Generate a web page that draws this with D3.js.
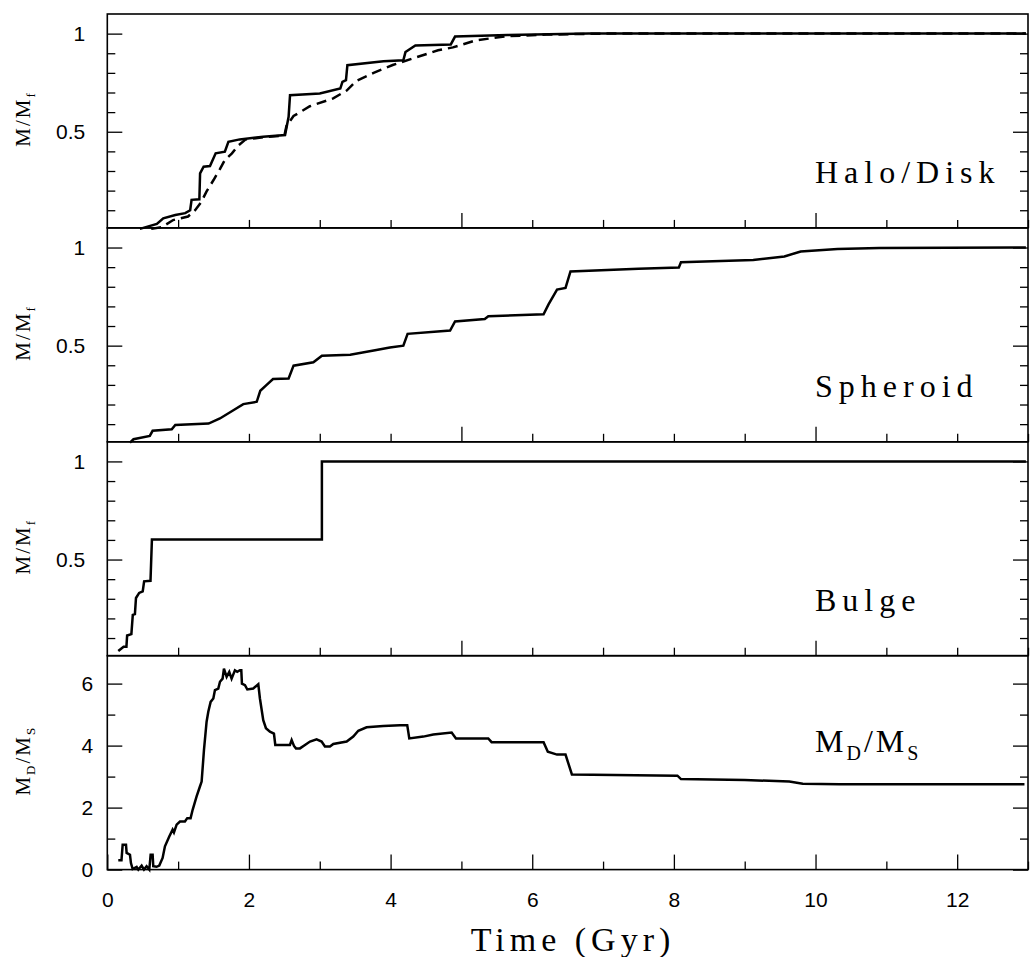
<!DOCTYPE html>
<html>
<head>
<meta charset="utf-8">
<script src="https://cdn.jsdelivr.net/npm/d3@7/dist/d3.min.js"></script>
<style>
  body { margin: 0; background: #fff; }
  svg { display: block; }
</style>
</head>
<body>
<svg id="chart" width="1032" height="957"></svg>
<script>
// ---------------- data ----------------
const haloSolidTime = [0.46, 0.70, 0.79, 0.96, 1.10, 1.17, 1.19, 1.30, 1.31, 1.36, 1.45, 1.53, 1.66, 1.71, 1.87, 2.20, 2.51, 2.56, 2.58, 3.00, 3.29, 3.32, 3.37, 3.39, 3.90, 4.18, 4.21, 4.35, 4.85, 4.91, 5.65, 6.80, 12.97];
const haloSolidFrac = [0.005, 0.03, 0.059, 0.076, 0.085, 0.10, 0.153, 0.156, 0.288, 0.322, 0.325, 0.39, 0.398, 0.449, 0.461, 0.475, 0.483, 0.576, 0.686, 0.695, 0.72, 0.754, 0.763, 0.839, 0.859, 0.864, 0.906, 0.94, 0.945, 0.985, 0.993, 1.0, 1.0];

const haloDashTime = [0.62, 0.77, 0.93, 1.14, 1.24, 1.33, 1.40, 1.50, 1.59, 1.66, 1.76, 1.85, 1.95, 2.20, 2.50, 2.53, 2.63, 2.86, 3.19, 3.38, 3.52, 3.76, 4.03, 4.37, 4.67, 4.88, 5.20, 5.61, 6.20, 7.00, 12.97];
const haloDashFrac = [0.005, 0.014, 0.05, 0.068, 0.10, 0.144, 0.195, 0.254, 0.31, 0.356, 0.39, 0.43, 0.46, 0.472, 0.48, 0.53, 0.58, 0.63, 0.67, 0.71, 0.76, 0.80, 0.84, 0.88, 0.915, 0.93, 0.965, 0.986, 0.995, 1.0, 1.0];

const spheroidTime = [0.32, 0.37, 0.60, 0.64, 0.91, 0.96, 1.43, 1.59, 1.78, 1.92, 2.11, 2.16, 2.25, 2.34, 2.56, 2.63, 2.91, 3.03, 3.43, 3.80, 3.99, 4.18, 4.24, 4.84, 4.91, 5.33, 5.38, 6.16, 6.23, 6.35, 6.47, 6.54, 7.50, 8.07, 8.10, 9.12, 9.56, 9.79, 10.31, 10.90, 12.97];
const spheroidFrac = [0.006, 0.023, 0.04, 0.066, 0.074, 0.096, 0.103, 0.129, 0.171, 0.202, 0.214, 0.27, 0.30, 0.33, 0.333, 0.398, 0.415, 0.449, 0.454, 0.478, 0.491, 0.50, 0.56, 0.577, 0.623, 0.636, 0.65, 0.66, 0.71, 0.786, 0.794, 0.878, 0.892, 0.898, 0.925, 0.937, 0.954, 0.98, 0.993, 0.998, 1.0];

const bulgeTime = [0.155, 0.23, 0.27, 0.28, 0.34, 0.36, 0.39, 0.405, 0.45, 0.50, 0.52, 0.61, 0.63, 3.03, 3.03, 12.97];
const bulgeFrac = [0.034, 0.056, 0.056, 0.113, 0.12, 0.218, 0.222, 0.304, 0.33, 0.338, 0.389, 0.392, 0.602, 0.602, 1.0, 1.0];

const ratioTime = [0.155, 0.20, 0.217, 0.264, 0.273, 0.32, 0.334, 0.358, 0.414, 0.438, 0.485, 0.518, 0.555, 0.593, 0.612, 0.64, 0.649, 0.696, 0.734, 0.781, 0.814, 0.875, 0.922, 0.941, 0.979, 1.026, 1.096, 1.129, 1.176, 1.205, 1.261, 1.308, 1.332, 1.365, 1.402, 1.426, 1.459, 1.497, 1.52, 1.567, 1.591, 1.628, 1.647, 1.685, 1.722, 1.755, 1.802, 1.835, 1.873, 1.892, 1.901, 1.944, 1.977, 2.061, 2.132, 2.155, 2.202, 2.24, 2.296, 2.353, 2.372, 2.579, 2.603, 2.636, 2.664, 2.72, 2.791, 2.862, 2.955, 3.026, 3.073, 3.144, 3.191, 3.38, 3.473, 3.544, 3.661, 3.897, 4.132, 4.235, 4.264, 4.462, 4.603, 4.862, 4.923, 5.379, 5.426, 6.16, 6.22, 6.35, 6.47, 6.56, 8.05, 8.10, 9.00, 9.63, 9.82, 10.34, 12.95];
const ratioValue = [0.30, 0.30, 0.80, 0.80, 0.54, 0.48, 0.21, 0.02, 0.09, 0.0, 0.13, 0.0, 0.11, 0.0, 0.48, 0.48, 0.11, 0.09, 0.13, 0.375, 0.75, 1.07, 1.29, 1.20, 1.45, 1.55, 1.55, 1.66, 1.66, 1.93, 2.36, 2.68, 2.84, 3.86, 4.77, 5.09, 5.41, 5.52, 5.79, 5.84, 6.06, 6.16, 6.48, 6.22, 6.38, 6.16, 6.43, 6.38, 6.43, 6.43, 6.00, 5.95, 5.81, 5.84, 5.98, 5.52, 4.82, 4.56, 4.45, 4.39, 4.02, 4.02, 4.18, 3.99, 3.91, 3.91, 4.02, 4.13, 4.20, 4.13, 3.97, 3.97, 4.05, 4.13, 4.29, 4.48, 4.59, 4.63, 4.66, 4.66, 4.23, 4.29, 4.36, 4.42, 4.23, 4.23, 4.11, 4.11, 3.80, 3.71, 3.71, 3.07, 3.03, 2.92, 2.89, 2.84, 2.77, 2.75, 2.75];

const xTickLabels = ["0", "2", "4", "6", "8", "10", "12"];
const massTickLabels = ["0.5", "1"];
const ratioTickLabels = ["0", "2", "4", "6"];
const panelNames = ["Halo/Disk", "Spheroid", "Bulge"];
const xTitle = "Time (Gyr)";

// ---------------- layout ----------------
const svg = d3.select("#chart");
const padL = 107.3, padR = 1028, padT = 14, ph = 213.9;
const x = d3.scaleLinear().domain([0, 13]).range([padL, padR]);
const zip = (t, v) => t.map((d, i) => [d, v[i]]);

const tickFont = "'Liberation Sans', Arial, Helvetica, sans-serif";
const serif = "'Liberation Serif', 'Times New Roman', serif";

function frame(g, y, yMinor, yMajor, xMajor, xMinor) {
  const y0 = y.range()[1], y1 = y.range()[0];
  g.append("g").attr("transform", `translate(0,${y1})`)
    .call(d3.axisBottom(x).tickValues(xMinor).tickSize(-8).tickFormat(""));
  g.append("g").attr("transform", `translate(0,${y1})`)
    .call(d3.axisBottom(x).tickValues(xMajor).tickSize(-15).tickFormat(""));
  g.append("g").attr("transform", `translate(${padL},0)`)
    .call(d3.axisLeft(y).tickValues(yMinor).tickSize(-8).tickFormat(""));
  g.append("g").attr("transform", `translate(${padL},0)`)
    .call(d3.axisLeft(y).tickValues(yMajor).tickSize(-15).tickFormat(""));
  g.append("g").attr("transform", `translate(${padR},0)`)
    .call(d3.axisRight(y).tickValues(yMinor).tickSize(-8).tickFormat(""));
  g.append("g").attr("transform", `translate(${padR},0)`)
    .call(d3.axisRight(y).tickValues(yMajor).tickSize(-15).tickFormat(""));
  g.selectAll(".domain").remove();
  g.selectAll(".tick line").attr("stroke", "#000").attr("stroke-width", 1.3);
  g.append("rect").attr("x", padL).attr("y", y0).attr("width", padR - padL).attr("height", y1 - y0)
    .attr("fill", "none").attr("stroke", "#000").attr("stroke-width", 1.6);
}

function yTitle(g, y, sub1, sub2) {
  const cy = (y.range()[0] + y.range()[1]) / 2 - 2;
  const t = g.append("text")
    .attr("transform", `translate(30,${cy}) rotate(-90)`)
    .attr("text-anchor", "middle")
    .attr("font-family", serif).attr("font-size", 21).attr("fill", "#000")
    .attr("letter-spacing", 2);
  t.append("tspan").text("M");
  if (sub1) t.append("tspan").attr("font-size", 13).attr("dy", 5).text(sub1);
  t.append("tspan").attr("dy", sub1 ? -5 : 0).text("/");
  t.append("tspan").text("M");
  t.append("tspan").attr("font-size", 13).attr("dy", 5).text(sub2);
}

const lineGen = d3.line().x(d => x(d[0]));

const massMinor = [0.1, 0.2, 0.3, 0.4, 0.6, 0.7, 0.8, 0.9];
const massMajor = massTickLabels.map(Number);
const upperXMinor = d3.range(1, 13).filter(d => d % 5 !== 0).concat([13]);
const upperXMajor = [5, 10];

const massSeries = [
  [zip(haloSolidTime, haloSolidFrac), zip(haloDashTime, haloDashFrac)],
  [zip(spheroidTime, spheroidFrac)],
  [zip(bulgeTime, bulgeFrac)]
];

for (let i = 0; i < 3; i++) {
  const y0 = padT + i * ph;
  const y = d3.scaleLinear().domain([0.01, 1.1]).range([y0 + ph, y0]);
  const g = svg.append("g");
  frame(g, y, massMinor, massMajor, upperXMajor, upperXMinor);
  g.append("g").attr("transform", `translate(${padL},0)`)
    .call(d3.axisLeft(y).tickValues(massMajor).tickSize(0).tickPadding(22)
      .tickFormat((d, k) => massTickLabels[k]))
    .call(a => a.select(".domain").remove())
    .selectAll("text").attr("font-family", tickFont).attr("font-size", 21).attr("fill", "#000");
  yTitle(g, y, null, "f");
  massSeries[i].forEach((s, k) => {
    g.append("path").datum(s)
      .attr("d", lineGen.y(d => y(d[1])))
      .attr("fill", "none").attr("stroke", "#000").attr("stroke-width", 2.5)
      .attr("stroke-dasharray", k === 1 ? "10,6" : null);
  });
  g.append("text").attr("x", 815).attr("y", y(0.24))
    .attr("font-family", serif).attr("font-size", 32).attr("letter-spacing", 6)
    .attr("fill", "#000").text(panelNames[i]);
}

{
  const y0 = padT + 3 * ph;
  const y = d3.scaleLinear().domain([0, 6.9]).range([y0 + ph, y0]);
  const g = svg.append("g");
  const xMajor = xTickLabels.map(Number);
  const xMinor = d3.range(1, 14, 2);
  frame(g, y, [1, 3, 5], ratioTickLabels.map(Number), xMajor, xMinor);
  g.append("g").attr("transform", `translate(${padL},0)`)
    .call(d3.axisLeft(y).tickValues(ratioTickLabels.map(Number)).tickSize(0).tickPadding(14)
      .tickFormat((d, k) => ratioTickLabels[k]))
    .call(a => a.select(".domain").remove())
    .selectAll("text").attr("font-family", tickFont).attr("font-size", 21).attr("fill", "#000");
  g.append("g").attr("transform", `translate(0,${y0 + ph})`)
    .call(d3.axisBottom(x).tickValues(xMajor).tickSize(0).tickPadding(22)
      .tickFormat((d, k) => xTickLabels[k]))
    .call(a => a.select(".domain").remove())
    .selectAll("text").attr("font-family", tickFont).attr("font-size", 21).attr("fill", "#000");
  yTitle(g, y, "D", "S");
  g.append("path").datum(zip(ratioTime, ratioValue))
    .attr("d", lineGen.y(d => y(d[1])))
    .attr("fill", "none").attr("stroke", "#000").attr("stroke-width", 2.5);
  const lab = g.append("text").attr("x", 815).attr("y", y(3.8))
    .attr("font-family", serif).attr("font-size", 32).attr("letter-spacing", 3).attr("fill", "#000");
  lab.append("tspan").text("M");
  lab.append("tspan").attr("font-size", 20).attr("dy", 8).text("D");
  lab.append("tspan").attr("dy", -8).text("/");
  lab.append("tspan").text("M");
  lab.append("tspan").attr("font-size", 20).attr("dy", 8).text("S");

  svg.append("text").attr("x", 573).attr("y", 951)
    .attr("text-anchor", "middle").attr("font-family", serif).attr("font-size", 34)
    .attr("letter-spacing", 5).attr("fill", "#000").text(xTitle);
}
</script>
</body>
</html>
